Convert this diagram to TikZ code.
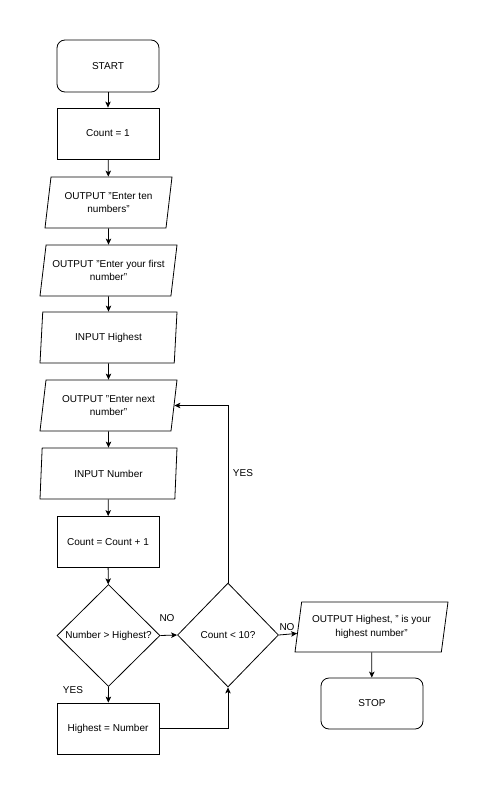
\documentclass[tikz,border=0pt]{standalone}
\usepackage{fontspec}
\setmainfont{Liberation Sans}
\usetikzlibrary{shapes.geometric,arrows.meta}

\begin{document}
\begin{tikzpicture}[x=1pt, y=-1pt,
		font=\fontsize{10}{13.3}\selectfont,
		every node/.style={align=center, line width=0.8pt},
		terminal/.style={draw, rounded corners=8pt, minimum width=102pt, minimum height=52pt, inner sep=0pt},
		process/.style={draw, minimum width=102pt, minimum height=51pt, inner sep=0pt},
		io/.style={draw, trapezium, trapezium left angle=73.6, trapezium right angle=106.4, trapezium stretches body, minimum width=137pt, minimum height=51pt, inner xsep=-4pt, inner ysep=0pt},
		decision/.style={draw, diamond, aspect=1, minimum width=103pt, minimum height=102pt, inner sep=0pt},
		flow/.style={draw, line width=0.8pt, -{Stealth[length=6pt, width=5.5pt, inset=1.5pt]}}]
			%%%%% START %%%%%
			\useasboundingbox (0, 0) rectangle (489, 795);
			
			\node[terminal] (start) at (108, 66) {START};
			\node[process] (count1) at (108, 133.5) {Count = 1};
			\node[io, minimum width=127pt] (outten) at (108.5, 202.5) {OUTPUT "Enter ten\\numbers"};
			\node[io] (outfirst) at (108.5, 270.5) {OUTPUT "Enter your first\\number"};
			\node[io] (inhigh) at (108.5, 337.5) {INPUT Highest};
			\node[io] (outnext) at (108.5, 405.5) {OUTPUT "Enter next\\number"};
			\node[io] (innum) at (108.5, 473.5) {INPUT Number};
			\node[process] (addcount) at (108, 542) {Count = Count + 1};
			\node[decision] (cmphigh) at (108.5, 635.5) {Number > Highest?};
			\node[process] (sethigh) at (108, 728.5) {Highest = Number};
			\node[decision, minimum width=101pt, minimum height=104pt] (chkcount) at (228, 635) {Count < 10?};
			\node[io, minimum width=153pt, minimum height=50pt] (outres) at (371.5, 627) {OUTPUT Highest, " is your\\highest number"};
			\node[terminal, minimum height=51pt] (stop) at (372, 703.5) {STOP};
			
			\draw[flow] (start) -- (count1);
			\draw[flow] (count1) -- (outten);
			\draw[flow] (outten) -- (outfirst);
			\draw[flow] (outfirst) -- (inhigh);
			\draw[flow] (inhigh) -- (outnext);
			\draw[flow] (outnext) -- (innum);
			\draw[flow] (innum) -- (addcount);
			\draw[flow] (addcount) -- (cmphigh);
			\draw[flow] (cmphigh.south) -- (sethigh);
			\draw[flow] (cmphigh.east) -- (chkcount.west);
			\draw[flow] (sethigh.east) -| (chkcount.south);
			\draw[flow] (chkcount.north) |- (outnext);
			\draw[flow] (chkcount.east) -- (outres);
			\draw[flow] (outres) -- (stop);
			
			\node (nolow) at (167, 618) {NO};
			\node (yeslow) at (73, 690) {YES};
			\node (yesloop) at (243, 473) {YES};
			\node (nores) at (287, 627) {NO};
			%%%%% END %%%%%
\end{tikzpicture}
\end{document}
